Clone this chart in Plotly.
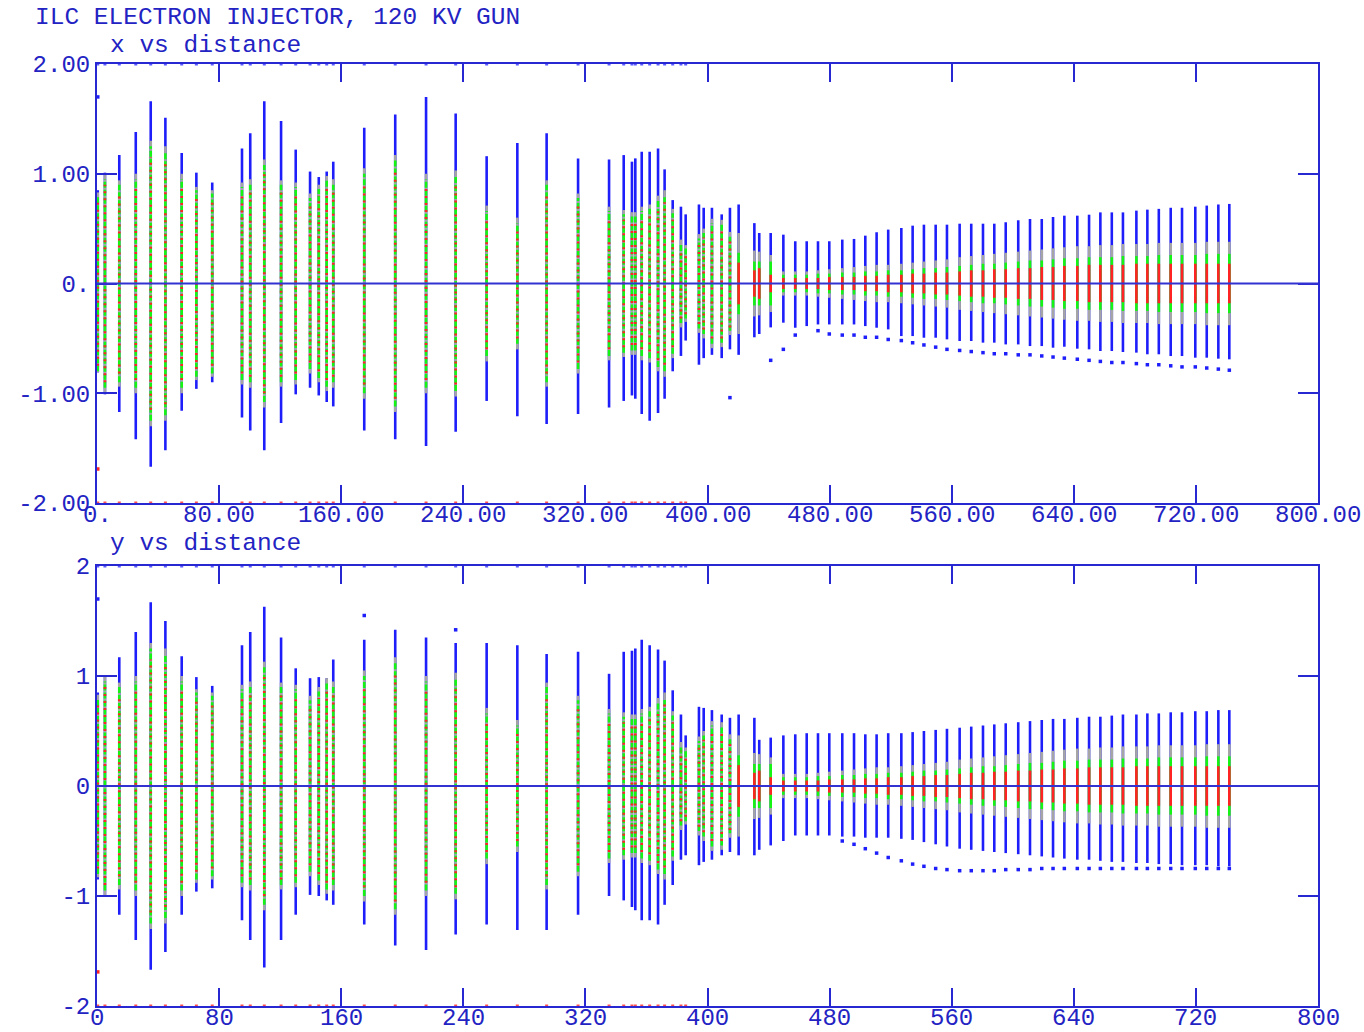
import plotly.graph_objects as go

# ---------------- data ----------------
Z = [0.5, 5.2, 14.6, 25.4, 35.2, 44.8, 55.5, 65.1, 75.5, 95.0,
     100.4, 109.6, 120.6, 130.2, 139.6, 145.3, 150.5, 154.8, 175.1, 195.4,
     215.6, 235.0, 255.3, 275.4, 294.6, 315.2, 335.5, 345.1, 350.5, 352.7,
     356.9, 362.1, 367.6, 371.9, 377.2, 382.6, 385.7, 394.4, 397.5, 402.9,
     409.3, 414.7, 420.4, 430.7, 433.9, 441.4,
     449.7, 457.5, 465.0, 472.4, 479.8, 488.3, 496.0, 503.4, 510.8, 518.4,
     527.0, 534.4, 541.8, 549.5, 556.9, 565.2, 572.8, 580.5, 587.9, 595.4,
     603.6, 611.3, 619.0, 626.4, 633.8, 642.3, 650.0, 657.4, 664.9, 672.2,
     681.0, 688.2, 695.7, 703.5, 710.9, 719.6, 727.1, 734.7, 741.9]

X_TOP = [0.85, 1.01, 1.17, 1.38, 1.66, 1.51, 1.19, 1.01, 0.92, 1.23,
         1.37, 1.66, 1.48, 1.22, 1.02, 0.97, 1.02, 1.11, 1.42, 1.54,
         1.70, 1.55, 1.16, 1.28, 1.37, 1.14, 1.13, 1.17, 1.11, 1.14,
         1.20, 1.20, 1.23, 1.04, 0.76, 0.70, 0.63, 0.72, 0.69, 0.69,
         0.63, 0.69, 0.72, 0.55, 0.46, 0.46,
         0.445, 0.385, 0.385, 0.385, 0.385, 0.40, 0.406, 0.436, 0.467, 0.491,
         0.506, 0.527, 0.536, 0.536, 0.536, 0.545, 0.545, 0.545, 0.545, 0.558,
         0.576, 0.588, 0.588, 0.606, 0.618, 0.618, 0.627, 0.648, 0.648, 0.648,
         0.664, 0.673, 0.68, 0.69, 0.69, 0.70, 0.71, 0.72, 0.725]
X_BOT = [-0.81, -1.01, -1.17, -1.42, -1.67, -1.52, -1.16, -0.96, -0.90, -1.22,
         -1.34, -1.52, -1.27, -1.01, -0.95, -1.02, -1.08, -1.12, -1.34, -1.42,
         -1.48, -1.35, -1.07, -1.21, -1.28, -1.19, -1.13, -1.07, -1.02, -1.05,
         -1.19, -1.25, -1.18, -1.05, -0.80, -0.66, -0.52, -0.74, -0.68, -0.65,
         -0.68, -0.60, -0.65, -0.49, -0.46, -0.40,
         -0.357, -0.403, -0.388, -0.373, -0.373, -0.373, -0.373, -0.388, -0.403, -0.418,
         -0.479, -0.479, -0.494, -0.494, -0.509, -0.524, -0.524, -0.539, -0.539, -0.555,
         -0.555, -0.57, -0.57, -0.585, -0.576, -0.594, -0.60, -0.615, -0.615, -0.624,
         -0.63, -0.645, -0.645, -0.661, -0.661, -0.676, -0.676, -0.685, -0.691]

# inner band half-widths (gray halo, green core, red centre)
X_GRAY = [0.83, 1.00, 0.94, 1.00, 1.30, 1.25, 1.00, 0.88, 0.85, 0.92,
          0.95, 1.13, 0.94, 0.92, 0.82, 0.90, 0.98, 0.95, 1.05, 1.17,
          1.00, 1.03, 0.71, 0.60, 0.94, 0.82, 0.70, 0.67, 0.65, 0.65,
          0.70, 0.72, 0.80, 0.85, 0.68, 0.40, 0.35, 0.45, 0.50, 0.59,
          0.58, 0.47, 0.46, 0.30, 0.29, 0.26,
          0.11, 0.11, 0.11, 0.12, 0.13, 0.14, 0.15, 0.16, 0.17, 0.17,
          0.18, 0.19, 0.20, 0.21, 0.22, 0.24, 0.25, 0.26, 0.27, 0.28,
          0.29, 0.30, 0.31, 0.32, 0.33, 0.34, 0.34, 0.35, 0.35, 0.36,
          0.36, 0.36, 0.37, 0.37, 0.37, 0.37, 0.38, 0.38, 0.38]
X_GREEN = [0.80, 0.95, 0.90, 0.95, 1.25, 1.20, 0.95, 0.85, 0.82, 0.88,
           0.90, 1.08, 0.90, 0.88, 0.78, 0.86, 0.94, 0.90, 1.00, 1.12,
           0.95, 0.98, 0.66, 0.55, 0.90, 0.78, 0.66, 0.63, 0.61, 0.61,
           0.66, 0.68, 0.76, 0.80, 0.64, 0.36, 0.32, 0.41, 0.46, 0.55,
           0.54, 0.43, 0.28, 0.20, 0.20, 0.20,
           0.08, 0.08, 0.08, 0.09, 0.09, 0.10, 0.10, 0.11, 0.11, 0.12,
           0.12, 0.13, 0.14, 0.14, 0.15, 0.16, 0.17, 0.18, 0.18, 0.19,
           0.20, 0.21, 0.21, 0.22, 0.23, 0.23, 0.24, 0.24, 0.24, 0.25,
           0.25, 0.25, 0.26, 0.26, 0.26, 0.26, 0.27, 0.27, 0.27]
X_RED = [0.75, 0.90, 0.82, 0.88, 1.15, 1.10, 0.88, 0.78, 0.75, 0.82,
         0.85, 1.00, 0.85, 0.82, 0.72, 0.80, 0.88, 0.85, 0.92, 1.05,
         0.88, 0.92, 0.60, 0.50, 0.82, 0.72, 0.60, 0.58, 0.56, 0.56,
         0.60, 0.62, 0.70, 0.74, 0.58, 0.32, 0.28, 0.37, 0.42, 0.50,
         0.50, 0.40, 0.19, 0.12, 0.14, 0.08,
         0.05, 0.05, 0.05, 0.05, 0.06, 0.06, 0.06, 0.07, 0.07, 0.08,
         0.08, 0.09, 0.09, 0.10, 0.10, 0.11, 0.12, 0.12, 0.13, 0.13,
         0.14, 0.14, 0.15, 0.15, 0.16, 0.16, 0.17, 0.17, 0.17, 0.17,
         0.18, 0.18, 0.18, 0.18, 0.18, 0.18, 0.18, 0.18, 0.18]

Y_TOP = [0.85, 1.00, 1.17, 1.40, 1.67, 1.50, 1.18, 0.99, 0.91, 1.28,
         1.40, 1.63, 1.35, 1.07, 0.98, 0.99, 0.98, 1.15, 1.33, 1.42,
         1.35, 1.30, 1.30, 1.28, 1.20, 1.22, 1.02, 1.22, 1.23, 1.25,
         1.33, 1.28, 1.24, 1.14, 0.87, 0.65, 0.46, 0.72, 0.71, 0.69,
         0.65, 0.62, 0.65, 0.62, 0.42, 0.44,
         0.46, 0.47, 0.48, 0.48, 0.48, 0.48, 0.48, 0.47, 0.47, 0.48,
         0.48, 0.49, 0.50, 0.51, 0.52, 0.53, 0.54, 0.55, 0.56, 0.57,
         0.58, 0.59, 0.60, 0.61, 0.61, 0.62, 0.63, 0.63, 0.64, 0.65,
         0.65, 0.66, 0.66, 0.67, 0.67, 0.68, 0.68, 0.69, 0.69]
Y_BOT = [-0.85, -1.00, -1.17, -1.40, -1.67, -1.51, -1.17, -0.96, -0.93, -1.22,
         -1.40, -1.65, -1.40, -1.17, -0.99, -1.00, -1.04, -1.08, -1.26, -1.45,
         -1.49, -1.35, -1.26, -1.31, -1.31, -1.17, -1.00, -1.04, -1.10, -1.13,
         -1.22, -1.22, -1.26, -1.08, -0.90, -0.67, -0.63, -0.72, -0.69, -0.67,
         -0.63, -0.60, -0.63, -0.63, -0.58, -0.54,
         -0.50, -0.45, -0.45, -0.45, -0.45, -0.46, -0.46, -0.47, -0.47, -0.47,
         -0.48, -0.49, -0.51, -0.53, -0.55, -0.57, -0.58, -0.59, -0.60, -0.61,
         -0.62, -0.63, -0.64, -0.65, -0.66, -0.67, -0.67, -0.68, -0.69, -0.69,
         -0.70, -0.70, -0.71, -0.71, -0.72, -0.72, -0.72, -0.73, -0.73]
Y_GRAY = X_GRAY
Y_GREEN = X_GREEN
Y_RED = X_RED

# isolated particles
X_OUT_Z = [0.5, 414.7, 441.4, 449.7, 457.5, 472.4, 479.8,
           488.3, 496.0, 503.4, 510.8, 518.4, 527.0, 534.4, 541.8, 549.5, 556.9,
           565.2, 572.8, 580.5, 587.9, 595.4, 603.6, 611.3, 619.0, 626.4, 633.8,
           642.3, 650.0, 657.4, 664.9, 672.2, 681.0, 688.2, 695.7, 703.5, 710.9,
           719.6, 727.1, 734.7, 741.9]
X_OUT_V = [1.70, -1.04, -0.70, -0.60, -0.47, -0.43, -0.46,
           -0.47, -0.47, -0.49, -0.49, -0.51, -0.52, -0.54, -0.56, -0.58, -0.60,
           -0.61, -0.62, -0.63, -0.64, -0.64, -0.65, -0.65, -0.66, -0.67, -0.68,
           -0.69, -0.70, -0.71, -0.72, -0.72, -0.73, -0.74, -0.74, -0.75, -0.76,
           -0.76, -0.77, -0.78, -0.79]
Y_OUT_Z = [0.5, 175.1, 235.0,
           488.3, 496.0, 503.4, 510.8, 518.4, 527.0, 534.4, 541.8, 549.5, 556.9,
           565.2, 572.8, 580.5, 587.9, 595.4, 603.6, 611.3, 619.0, 626.4, 633.8,
           642.3, 650.0, 657.4, 664.9, 672.2, 681.0, 688.2, 695.7, 703.5, 710.9,
           719.6, 727.1, 734.7, 741.9]
Y_OUT_V = [1.70, 1.55, 1.42,
           -0.50, -0.53, -0.57, -0.61, -0.65, -0.68, -0.71, -0.73, -0.75, -0.76,
           -0.77, -0.77, -0.77, -0.77, -0.76, -0.76, -0.76, -0.75, -0.75, -0.75,
           -0.75, -0.75, -0.75, -0.75, -0.75, -0.75, -0.75, -0.75, -0.75, -0.75,
           -0.75, -0.75, -0.75, -0.75]
LOST_Z = [0.5]
LOST_V = [-1.69]

X_TICKS = [0, 80, 160, 240, 320, 400, 480, 560, 640, 720, 800]
X_TICKTEXT_TOP = ["0.", "80.00", "160.00", "240.00", "320.00", "400.00",
                  "480.00", "560.00", "640.00", "720.00", "800.00"]
X_TICKTEXT_BOT = ["0", "80", "160", "240", "320", "400", "480", "560", "640", "720", "800"]
Y_TICKS = [-2, -1, 0, 1, 2]
Y_TICKTEXT_TOP = ["-2.00", "-1.00", "0.", "1.00", "2.00"]
Y_TICKTEXT_BOT = ["-2", "-1", "0", "1", "2"]

TITLE = "ILC ELECTRON INJECTOR, 120 KV GUN"
PANEL_TITLES = ["x vs distance", "y vs distance"]

# ---------------- styling ----------------
W, H = 1364, 1032
BLUE = "rgb(30,30,250)"
GRAY = "rgb(165,165,165)"
GREEN = "rgb(20,245,20)"
RED = "rgb(255,35,35)"
AXC = "rgb(40,40,210)"
TXT = "rgb(35,35,195)"
FONT = "Liberation Mono"
LW = 2.6
MIXED_LIMIT = 418  # stations upstream of this are drawn with speckled core


def segs(idx, lo, hi):
    xs, ys = [], []
    for i in idx:
        xs += [Z[i], Z[i], None]
        ys += [lo[i], hi[i], None]
    return xs, ys


fig = go.Figure()

panels = [
    dict(xa="x", ya="y", top=X_TOP, bot=X_BOT, gray=X_GRAY, green=X_GREEN, red=X_RED,
         oz=X_OUT_Z, ov=X_OUT_V),
    dict(xa="x2", ya="y2", top=Y_TOP, bot=Y_BOT, gray=Y_GRAY, green=Y_GREEN, red=Y_RED,
         oz=Y_OUT_Z, ov=Y_OUT_V),
]

all_idx = list(range(len(Z)))
mixed = [i for i in all_idx if Z[i] < MIXED_LIMIT]
clean = [i for i in all_idx if Z[i] >= MIXED_LIMIT]

for p in panels:
    top, bot = p["top"], p["bot"]

    def band(w):
        return ([max(-w[i], bot[i]) for i in all_idx], [min(w[i], top[i]) for i in all_idx])

    glo, ghi = band(p["gray"])
    nlo, nhi = band(p["green"])
    rlo, rhi = band(p["red"])

    def add(idx, lo, hi, color, dash="solid", width=LW):
        xs, ys = segs(idx, lo, hi)
        fig.add_trace(go.Scatter(x=xs, y=ys, mode="lines", xaxis=p["xa"], yaxis=p["ya"],
                                 line=dict(color=color, width=width, dash=dash),
                                 hoverinfo="skip", showlegend=False))

    add(all_idx, bot, top, BLUE)
    add(all_idx, glo, ghi, GRAY)
    add(clean, nlo, nhi, GREEN)
    add(mixed, nlo, nhi, GREEN, dash="6px,2px")
    add(clean, rlo, rhi, RED)
    add(mixed, rlo, rhi, RED, dash="2px,5px")

    fig.add_trace(go.Scatter(x=p["oz"], y=p["ov"], mode="markers", xaxis=p["xa"], yaxis=p["ya"],
                             marker=dict(color=BLUE, size=3.5, symbol="square"),
                             hoverinfo="skip", showlegend=False))
    fig.add_trace(go.Scatter(x=LOST_Z, y=LOST_V, mode="markers", xaxis=p["xa"], yaxis=p["ya"],
                             marker=dict(color=RED, size=3.5, symbol="square"),
                             hoverinfo="skip", showlegend=False))
    edge = [Z[i] for i in mixed if Z[i] < 390]
    fig.add_trace(go.Scatter(x=edge, y=[2] * len(edge), mode="markers", xaxis=p["xa"], yaxis=p["ya"],
                             marker=dict(color="rgb(90,90,255)", size=3, symbol="square"),
                             cliponaxis=False, hoverinfo="skip", showlegend=False))
    fig.add_trace(go.Scatter(x=edge, y=[-2] * len(edge), mode="markers", xaxis=p["xa"], yaxis=p["ya"],
                             marker=dict(color="rgb(255,80,80)", size=3, symbol="square"),
                             cliponaxis=False, hoverinfo="skip", showlegend=False))


def px_x(px):
    return px / W


def px_y(py):
    return 1 - py / H


axis_common = dict(showline=True, linecolor=AXC, linewidth=2, mirror="ticks",
                   ticks="inside", tickcolor=AXC, tickwidth=2,
                   showgrid=False, zeroline=False, automargin=False,
                   tickfont=dict(family=FONT, size=24, color=TXT))

xdom = [px_x(97), px_x(1318)]
fig.update_layout(
    width=W, height=H,
    margin=dict(l=0, r=0, t=0, b=0),
    paper_bgcolor="white", plot_bgcolor="white",
    showlegend=False,
    xaxis=dict(domain=xdom, range=[0, 800], anchor="y", tickmode="array",
               tickvals=X_TICKS, showticklabels=False, ticklen=18, **axis_common),
    yaxis=dict(domain=[px_y(503), px_y(64)], range=[-2, 2], anchor="x", tickmode="array",
               tickvals=Y_TICKS, ticktext=Y_TICKTEXT_TOP, ticklen=20, **axis_common),
    xaxis2=dict(domain=xdom, range=[0, 800], anchor="y2", tickmode="array",
                tickvals=X_TICKS, showticklabels=False, ticklen=18, **axis_common),
    yaxis2=dict(domain=[px_y(1006), px_y(566)], range=[-2, 2], anchor="x2", tickmode="array",
                tickvals=Y_TICKS, ticktext=Y_TICKTEXT_BOT, ticklen=20, **axis_common),
)

# x tick labels placed tight under the axis line, as in the reference
for xa, ya, texts, shift in (("x", "y", X_TICKTEXT_TOP, -12), ("x2", "y2", X_TICKTEXT_BOT, -12)):
    for v, t in zip(X_TICKS, texts):
        fig.add_annotation(text=t, xref=xa, yref=f"{ya} domain", x=v, y=0,
                           xanchor="center", yanchor="middle", yshift=shift,
                           showarrow=False, font=dict(family=FONT, size=24, color=TXT))

for xa, ya in (("x", "y"), ("x2", "y2")):
    fig.add_shape(type="line", xref=f"{xa} domain", yref=ya, x0=0, x1=1, y0=0, y1=0,
                  line=dict(color="rgb(50,50,210)", width=2), layer="above")

fig.add_annotation(text=TITLE, xref="paper", yref="paper", x=px_x(33), y=px_y(17),
                   xanchor="left", yanchor="middle", showarrow=False,
                   font=dict(family=FONT, size=24.5, color=TXT))
for t, py in zip(PANEL_TITLES, (46, 543)):
    fig.add_annotation(text=t, xref="paper", yref="paper", x=px_x(108), y=px_y(py),
                       xanchor="left", yanchor="middle", showarrow=False,
                       font=dict(family=FONT, size=24.5, color=TXT))

fig.write_html("out.html", config={"displayModeBar": False},
               post_script="document.body.style.margin='0px';")
